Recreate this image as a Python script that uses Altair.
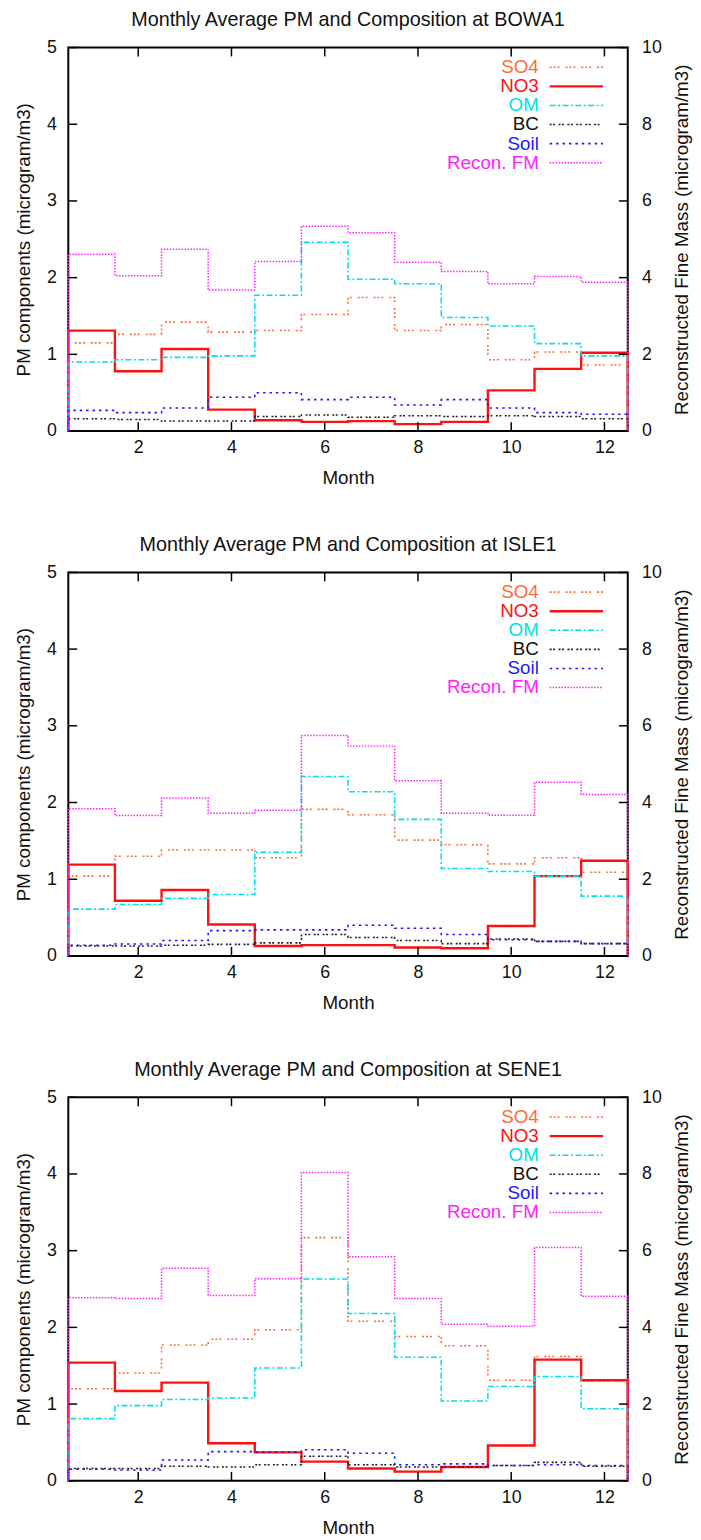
import altair as alt
import pandas as pd

FONT = "Liberation Sans"

months = list(range(1, 13))
x_ticks = [2, 4, 6, 8, 10, 12]
left_ticks = [0, 1, 2, 3, 4, 5]
right_ticks = [0, 2, 4, 6, 8, 10]

stations = ["BOWA1", "ISLE1", "SENE1"]

# BOWA1
bowa_so4 = [1.15, 1.26, 1.42, 1.29, 1.31, 1.52, 1.74, 1.31, 1.39, 0.93, 1.03, 0.86]
bowa_no3 = [1.31, 0.78, 1.07, 0.28, 0.14, 0.12, 0.13, 0.09, 0.12, 0.53, 0.81, 1.02]
bowa_om = [0.90, 0.93, 0.96, 0.98, 1.77, 2.46, 1.98, 1.92, 1.48, 1.37, 1.14, 0.98]
bowa_bc = [0.16, 0.15, 0.13, 0.13, 0.19, 0.21, 0.18, 0.20, 0.19, 0.20, 0.19, 0.16]
bowa_soil = [0.27, 0.24, 0.30, 0.44, 0.50, 0.41, 0.44, 0.34, 0.41, 0.30, 0.24, 0.22]
bowa_fm = [4.61, 4.05, 4.74, 3.68, 4.42, 5.34, 5.17, 4.40, 4.16, 3.84, 4.03, 3.88]

# ISLE1
isle_so4 = [1.04, 1.30, 1.38, 1.38, 1.28, 1.91, 1.84, 1.51, 1.45, 1.20, 1.28, 1.09]
isle_no3 = [1.19, 0.72, 0.86, 0.41, 0.13, 0.14, 0.14, 0.11, 0.10, 0.39, 1.04, 1.24]
isle_om = [0.61, 0.67, 0.75, 0.80, 1.35, 2.34, 2.14, 1.78, 1.14, 1.10, 1.04, 0.78]
isle_bc = [0.13, 0.13, 0.14, 0.15, 0.17, 0.28, 0.24, 0.20, 0.16, 0.22, 0.19, 0.16]
isle_soil = [0.14, 0.155, 0.20, 0.33, 0.34, 0.34, 0.40, 0.36, 0.28, 0.21, 0.19, 0.16]
isle_fm = [3.84, 3.66, 4.12, 3.72, 3.80, 5.75, 5.47, 4.57, 3.72, 3.67, 4.53, 4.21]

# SENE1
sene_so4 = [1.20, 1.405, 1.77, 1.845, 1.97, 3.17, 2.08, 1.88, 1.76, 1.31, 1.62, 1.30]
sene_no3 = [1.54, 1.17, 1.28, 0.49, 0.37, 0.25, 0.16, 0.12, 0.18, 0.46, 1.58, 1.31]
sene_om = [0.81, 0.98, 1.06, 1.08, 1.47, 2.63, 2.18, 1.61, 1.04, 1.23, 1.36, 0.94]
sene_bc = [0.16, 0.16, 0.19, 0.18, 0.21, 0.32, 0.21, 0.18, 0.18, 0.20, 0.24, 0.19]
sene_soil = [0.15, 0.14, 0.27, 0.38, 0.375, 0.405, 0.36, 0.21, 0.22, 0.20, 0.21, 0.20]
sene_fm = [4.77, 4.75, 5.54, 4.83, 5.27, 8.04, 5.84, 4.75, 4.08, 4.03, 6.08, 4.81]

station_data = {
    "BOWA1": [bowa_so4, bowa_no3, bowa_om, bowa_bc, bowa_soil, bowa_fm],
    "ISLE1": [isle_so4, isle_no3, isle_om, isle_bc, isle_soil, isle_fm],
    "SENE1": [sene_so4, sene_no3, sene_om, sene_bc, sene_soil, sene_fm],
}

series_names = ["SO4", "NO3", "OM", "BC", "Soil", "Recon. FM"]
series_colors = ["#ff6a3a", "#ff1010", "#00e0e8", "#202020", "#1a1aff", "#ff20ff"]
series_dash = [[2, 2, 2, 2, 2, 6], [1, 0], [6, 2.5, 2, 2.5], [2, 1.5, 2, 3.5], [2.5, 4], [1.5, 1.5]]
series_width = [1.6, 2.4, 1.6, 1.6, 1.6, 1.5]

W, H = 566, 388
TICK = 9


def step_frame(vals):
    xs = [0.5, 0.5] + months + [12.5, 12.5]
    ys = [0.0, vals[0]] + list(vals) + [vals[-1], 0.0]
    return pd.DataFrame({"x": xs, "v": ys, "i": list(range(len(xs)))})


x_scale = alt.Scale(domain=[0.5, 12.5], nice=False, zero=False)
yl_scale = alt.Scale(domain=[0, 5], nice=False, zero=False)
yr_scale = alt.Scale(domain=[0, 10], nice=False, zero=False)

x_axis = alt.Axis(title="Month", values=x_ticks, ticks=False, domain=False, grid=False,
                  labelFontSize=18, titleFontSize=19, titleFontWeight="normal",
                  labelPadding=8, titlePadding=12, labelFlush=False, format="d",
                  labelColor="#111", titleColor="#111")
yl_axis = alt.Axis(title="PM components (microgram/m3)", values=left_ticks, ticks=False,
                   domain=False, grid=False, labelFontSize=18, titleFontSize=19,
                   titleFontWeight="normal", labelPadding=12, titlePadding=13, format="d",
                   labelColor="#111", titleColor="#111", labelFlush=False)
yr_axis = alt.Axis(title="Reconstructed Fine Mass (microgram/m3)", orient="right",
                   values=right_ticks, ticks=False, domain=False, grid=False,
                   labelFontSize=18, titleFontSize=19, titleFontWeight="normal",
                   labelPadding=14, titlePadding=30, format="d", titleAngle=270,
                   labelColor="#111", titleColor="#111", labelFlush=False)

one = alt.Data(values=[{}])


def panel(name):
    vals = station_data[name]
    left_layers = []
    for k in range(5):
        left_layers.append(
            alt.Chart(step_frame(vals[k])).mark_line(
                interpolate="step", color=series_colors[k],
                strokeDash=series_dash[k], strokeWidth=series_width[k]
            ).encode(
                x=alt.X("x:Q", scale=x_scale, axis=x_axis),
                y=alt.Y("v:Q", scale=yl_scale, axis=yl_axis),
                order="i:Q",
            )
        )
    xt = pd.DataFrame({"t": x_ticks})
    lt = pd.DataFrame({"t": left_ticks})
    rt = pd.DataFrame({"t": right_ticks})
    left_layers.append(
        alt.Chart(xt).mark_rule(color="black", strokeWidth=1.5).encode(
            x=alt.X("t:Q", scale=x_scale, axis=x_axis),
            y=alt.value(H), y2=alt.value(H - TICK)))
    left_layers.append(
        alt.Chart(xt).mark_rule(color="black", strokeWidth=1.5).encode(
            x=alt.X("t:Q", scale=x_scale, axis=x_axis),
            y=alt.value(0), y2=alt.value(TICK)))
    left_layers.append(
        alt.Chart(lt).mark_rule(color="black", strokeWidth=1.5).encode(
            y=alt.Y("t:Q", scale=yl_scale, axis=yl_axis),
            x=alt.value(0), x2=alt.value(TICK)))
    # legend
    row0, dy = 20, 19.3
    for k in range(6):
        ry = row0 + k * dy
        left_layers.append(
            alt.Chart(one).mark_text(
                text=series_names[k], align="right", baseline="middle",
                fontSize=19, color=series_colors[k] if k != 3 else "#111"
            ).encode(x=alt.value(476), y=alt.value(ry)))
        left_layers.append(
            alt.Chart(one).mark_rule(
                color=series_colors[k], strokeDash=series_dash[k],
                strokeWidth=series_width[k]
            ).encode(x=alt.value(487), x2=alt.value(541), y=alt.value(ry)))
    left = alt.layer(*left_layers)

    fm_line = alt.Chart(step_frame(vals[5])).mark_line(
        interpolate="step", color=series_colors[5],
        strokeDash=series_dash[5], strokeWidth=series_width[5]
    ).encode(
        x=alt.X("x:Q", scale=x_scale, axis=x_axis),
        y=alt.Y("v:Q", scale=yr_scale, axis=yr_axis),
        order="i:Q",
    )
    r_ticks = alt.Chart(rt).mark_rule(color="black", strokeWidth=1.5).encode(
        y=alt.Y("t:Q", scale=yr_scale, axis=yr_axis),
        x=alt.value(W), x2=alt.value(W - TICK))
    right = alt.layer(fm_line, r_ticks)

    return alt.layer(left, right).resolve_scale(y="independent").properties(
        width=W, height=H,
        title=alt.TitleParams(
            text=f"Monthly Average PM and Composition at {name}",
            fontSize=20, fontWeight="normal", offset=9, anchor="middle",
            color="#111"),
    )


chart = alt.vconcat(*[panel(s) for s in stations], spacing=46).properties(
    padding={"left": 5, "top": -8, "right": 0, "bottom": 0}
).configure(font=FONT).configure_view(stroke="black", strokeWidth=2)

chart.save("out.html", embed_options={"renderer": "svg", "actions": False})
